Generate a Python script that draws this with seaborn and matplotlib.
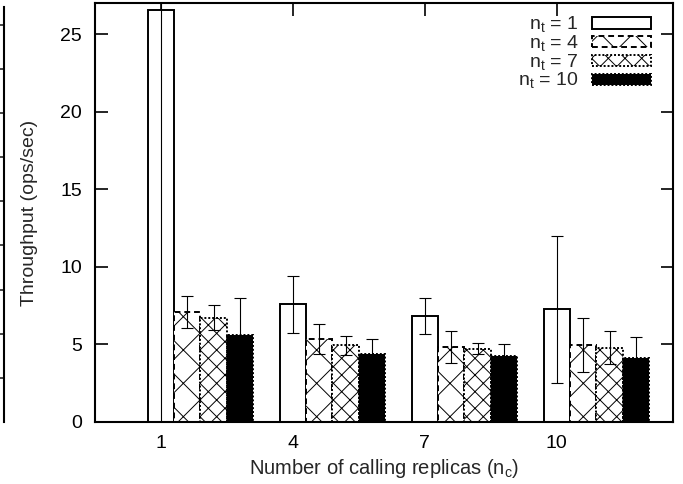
import matplotlib
matplotlib.use("Agg")
import matplotlib.pyplot as plt
import matplotlib.patches as mpatches
import numpy as np
import pandas as pd
import seaborn as sns

# ---- data ----
nc_labels = ["1", "4", "7", "10"]
nt_levels = ["1", "4", "7", "10"]
thr_nt1 = [26.55, 7.59, 6.82, 7.25]
thr_nt4 = [7.09, 5.35, 4.82, 4.97]
thr_nt7 = [6.73, 4.93, 4.73, 4.80]
thr_nt10 = [5.63, 4.37, 4.24, 4.11]
err_nt1 = [27.0, 1.83, 1.18, 4.75]
err_nt4 = [1.02, 0.95, 1.05, 1.75]
err_nt7 = [0.80, 0.60, 0.36, 1.08]
err_nt10 = [2.33, 0.95, 0.80, 1.35]

thr = {"1": thr_nt1, "4": thr_nt4, "7": thr_nt7, "10": thr_nt10}
err = {"1": err_nt1, "4": err_nt4, "7": err_nt7, "10": err_nt10}

rows = []
for nt in nt_levels:
    for i, nc in enumerate(nc_labels):
        rows.append({"nc": nc, "nt": nt, "thr": thr[nt][i], "err": err[nt][i]})
df = pd.DataFrame(rows)

sns.set_theme(style="ticks")
plt.rcParams["font.family"] = ["Liberation Sans", "DejaVu Sans"]
plt.rcParams["hatch.linewidth"] = 0.7
plt.rcParams["hatch.color"] = "black"

FS = 14
W, H = 683, 484
fig = plt.figure(figsize=(W / 100, H / 100), dpi=100)
ax = fig.add_axes([95 / W, (H - 422) / H, 578 / W, 419 / H])

sns.barplot(data=df, x="nc", y="thr", hue="nt", order=nc_labels,
            hue_order=nt_levels, errorbar=None, width=0.8,
            palette=["white"] * 4, ax=ax, legend=False, saturation=1)

styles = [
    dict(facecolor="white", edgecolor="black", linestyle="-", hatch=None),
    dict(facecolor="white", edgecolor="black", linestyle=(0, (3, 2)), hatch="x"),
    dict(facecolor="white", edgecolor="black", linestyle=(0, (1, 1)), hatch="xx"),
    dict(facecolor="black", edgecolor="black", linestyle=(0, (1, 1)), hatch=None),
]

for cont, st, nt in zip(ax.containers, styles, nt_levels):
    xs = []
    for p in cont.patches:
        p.set_facecolor(st["facecolor"])
        p.set_edgecolor(st["edgecolor"])
        p.set_linestyle(st["linestyle"])
        p.set_linewidth(1.4)
        if st["hatch"]:
            p.set_hatch(st["hatch"])
        xs.append(p.get_x() + p.get_width() / 2)
    ax.errorbar(xs, thr[nt], yerr=err[nt], fmt="none", ecolor="black",
                elinewidth=0.8, capsize=4.3, capthick=0.8, zorder=5)

first_centers = [p.get_x() + p.get_width() / 2 for p in ax.containers[0].patches]
ax.set_xticks(first_centers)
ax.set_xticklabels(nc_labels)
ax.set_xlim(first_centers[0] - 0.498, first_centers[0] - 0.498 + 4.379)
ax.set_ylim(0, 27)
ax.set_yticks([0, 5, 10, 15, 20, 25])

for s in ax.spines.values():
    s.set_linewidth(1.5)
    s.set_color("black")
    s.set_visible(True)
ax.tick_params(axis="both", which="major", direction="in", length=9, width=1.2,
               top=True, right=True, labelsize=FS, pad=9.4, colors="black")
ax.tick_params(axis="x", pad=9)

ax.set_xlabel("Number of calling replicas (n$_\\mathregular{c}$)", fontsize=14.5, labelpad=4)
ax.set_ylabel("Throughput (ops/sec)", fontsize=FS, labelpad=16)

handles = []
for st in styles:
    h = mpatches.Patch(facecolor=st["facecolor"], edgecolor=st["edgecolor"],
                       linestyle=st["linestyle"], linewidth=1.4,
                       hatch=st["hatch"])
    handles.append(h)
labels = ["n$_\\mathregular{t}$ = " + nt for nt in nt_levels]
leg = ax.legend(handles, labels, loc="upper right", markerfirst=False,
                frameon=False, fontsize=FS, handlelength=3.0, handleheight=0.5,
                labelspacing=-0.08, handletextpad=0.7, borderaxespad=0.3,
                bbox_to_anchor=(0.985, 1.004))

# partial neighbouring plot at the left edge
axl = fig.add_axes([-0.1, (H - 422) / H, 0.1 + 4 / W, 415 / H])
axl.set_xlim(0, 1)
axl.set_ylim(0, 9.4)
axl.set_yticks(range(1, 10))
for k in ["top", "bottom", "left"]:
    axl.spines[k].set_visible(False)
axl.spines["right"].set_linewidth(1.5)
axl.spines["right"].set_color("black")
axl.set_xticks([])
axl.yaxis.tick_right()
axl.tick_params(axis="y", direction="in", length=5, width=1.2, labelright=False)
axl.patch.set_alpha(0)

fig.savefig("out.png", dpi=100)
